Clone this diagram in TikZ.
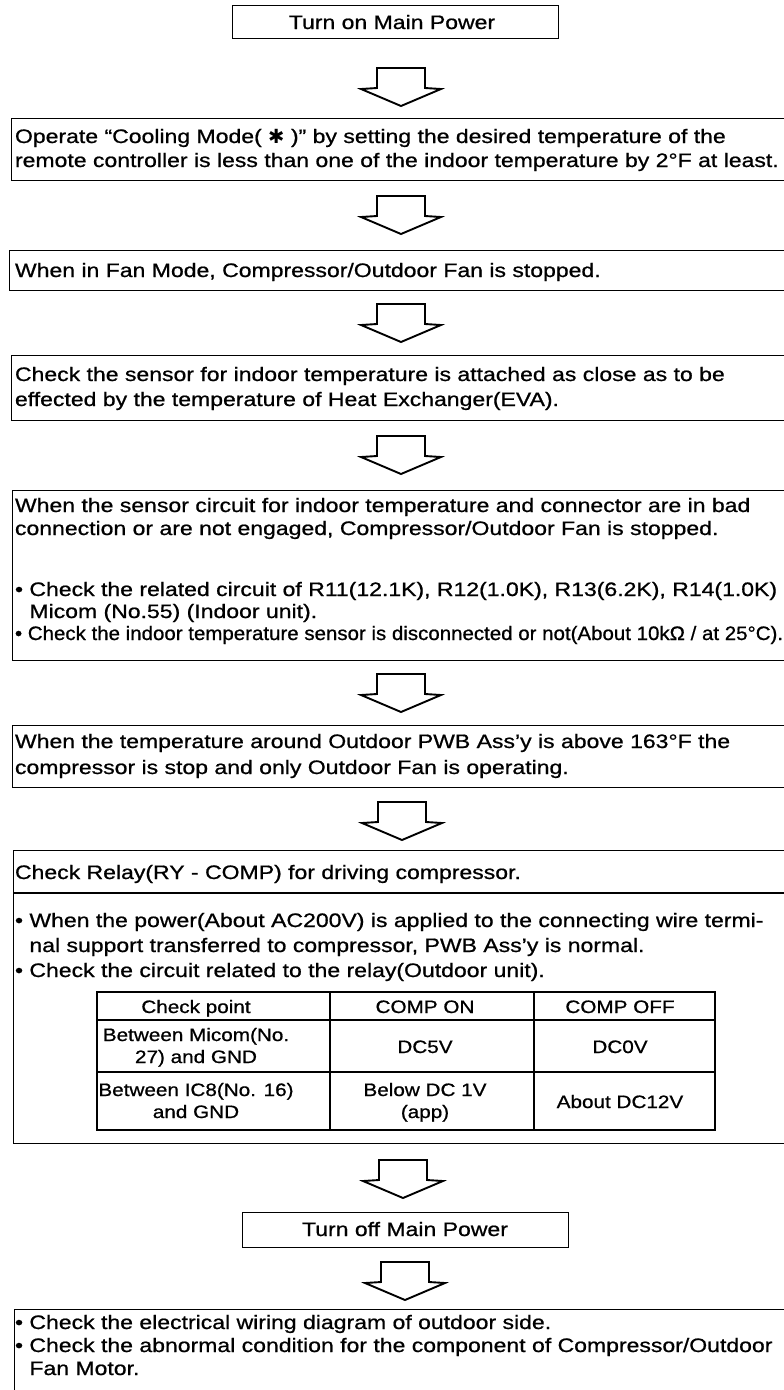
\documentclass[tikz,border=0pt]{standalone}
\usepackage{fontspec}
\setmainfont{Liberation Sans}[FakeStretch=1.18, FakeBold=0.8]
\newfontfamily\fn{Liberation Sans}[FakeStretch=1.15, FakeBold=0.8]
\newfontfamily\fc{Liberation Sans}[FakeStretch=1.05, FakeBold=0.8]
\newfontfamily\symf{DejaVu Sans}
\tikzset{
  box/.style={draw=black, line width=1.3pt, inner sep=0pt, anchor=north west},
  rule/.style={draw=black, line width=1.3pt},
  blk/.style={draw=black, line width=1.9pt, line join=miter, fill=white},
  txt/.style={anchor=base west, inner sep=0pt, outer sep=0pt, font=\fontsize{19.5}{24}\selectfont},
  txtn/.style={txt, font=\fn\fontsize{19.5}{24}\selectfont},
  txtc/.style={txt, font=\fc\fontsize{19.5}{24}\selectfont},
  ctxt/.style={anchor=base, inner sep=0pt, font=\fontsize{19.5}{24}\selectfont},
  tbl/.style={anchor=base, inner sep=0pt, font=\fn\fontsize{18}{22}\selectfont},
}
\newcommand\blockarrow[2]{%
  \coordinate (#1) at #2;
  \draw[blk] (#1) ++(-24,0) -- ++(48,0) -- ++(0,20) -- ++(16,1) -- ++(-40,17) -- ++(-40,-17) -- ++(16,-1) -- cycle;
}
\begin{document}
\begin{tikzpicture}[x=1pt, y=-1pt]
\useasboundingbox (0,0) rectangle (784,1390);
\fill[white] (0,0) rectangle (784,1390);
\clip (0,0) rectangle (784,1390);

% boxes
\node[box, minimum width=326pt, minimum height=33pt] (b1) at (232,5) {};
\node[box, minimum width=790pt, minimum height=62pt] (b2) at (11,118) {};
\node[box, minimum width=792pt, minimum height=40pt] (b3) at (9,250) {};
\node[box, minimum width=790pt, minimum height=65pt] (b4) at (11,355) {};
\node[box, minimum width=790pt, minimum height=170pt] (b5) at (12,490) {};
\node[box, minimum width=790pt, minimum height=62pt] (b6) at (12,725) {};
\node[box, minimum width=790pt, minimum height=293pt] (b7) at (13,850) {};
\draw[rule] (13,893) -- (803,893);
\node[box, minimum width=326pt, minimum height=35pt] (b8) at (242,1212) {};
\node[box, minimum width=790pt, minimum height=120pt] (b9) at (14,1309) {};

% table
\draw[rule, line width=1.2pt] (97,992) rectangle (715,1130);
\draw[rule, line width=1.2pt] (97,1020) -- (715,1020) (97,1072) -- (715,1072)
  (330,992) -- (330,1130) (534,992) -- (534,1130);

% block arrows
\blockarrow{a1}{(401,68)}
\blockarrow{a2}{(401,196)}
\blockarrow{a3}{(401,304)}
\blockarrow{a4}{(401,436)}
\blockarrow{a5}{(401,674)}
\blockarrow{a6}{(402,802)}
\blockarrow{a7}{(403,1160)}
\blockarrow{a8}{(405,1262)}

% texts
\node[ctxt] (t1) at (392,29) {Turn on Main Power};
\node[txt] (t2a) at (15,143) {Operate “Cooling Mode( {\symf ✱} )” by setting the desired temperature of the};
\node[txt] (t2b) at (15,167) {remote controller is less than one of the indoor temperature by 2°F at least.};
\node[txt] (t3) at (15,277) {When in Fan Mode, Compressor/Outdoor Fan is stopped.};
\node[txt] (t4a) at (15,381) {Check the sensor for indoor temperature is attached as close as to be};
\node[txt] (t4b) at (15,406) {effected by the temperature of Heat Exchanger(EVA).};
\node[txt] (t5a) at (15,512) {When the sensor circuit for indoor temperature and connector are in bad};
\node[txt] (t5b) at (15,535) {connection or are not engaged, Compressor/Outdoor Fan is stopped.};
\node[txt] (t5c) at (15,596) {• Check the related circuit of R11(12.1K), R12(1.0K), R13(6.2K), R14(1.0K)};
\node[txt] (t5d) at (15,618) {\hphantom{•\ }Micom (No.55) (Indoor unit).};
\node[txtc] (t5e) at (15,640) {• Check the indoor temperature sensor is disconnected or not(About 10kΩ / at 25°C).};
\node[txt] (t6a) at (15,748) {When the temperature around Outdoor PWB Ass'y is above 163°F the};
\node[txt] (t6b) at (15,774) {compressor is stop and only Outdoor Fan is operating.};
\node[txt] (t7a) at (15,879) {Check Relay(RY - COMP) for driving compressor.};
\node[txt] (t7b) at (15,927) {• When the power(About AC200V) is applied to the connecting wire termi-};
\node[txt] (t7c) at (15,952) {\hphantom{•\ }nal support transferred to compressor, PWB Ass'y is normal.};
\node[txt] (t7d) at (15,977) {• Check the circuit related to the relay(Outdoor unit).};

\node[tbl] (h1) at (196,1013) {Check point};
\node[tbl] (h2) at (425,1013) {COMP ON};
\node[tbl] (h3) at (620,1013) {COMP OFF};
\node[tbl] (r1a) at (196,1041) {Between Micom(No.};
\node[tbl] (r1b) at (196,1063) {27) and GND};
\node[tbl] (r1c) at (425,1053) {DC5V};
\node[tbl] (r1d) at (620,1053) {DC0V};
\node[tbl] (r2a) at (196,1096) {Between IC8(No. 16)};
\node[tbl] (r2b) at (196,1118) {and GND};
\node[tbl] (r2c) at (425,1096) {Below DC 1V};
\node[tbl] (r2d) at (425,1118) {(app)};
\node[tbl] (r2e) at (620,1108) {About DC12V};

\node[ctxt] (t8) at (405,1236) {Turn off Main Power};
\node[txt] (t9a) at (15,1329) {• Check the electrical wiring diagram of outdoor side.};
\node[txt] (t9b) at (15,1352) {• Check the abnormal condition for the component of Compressor/Outdoor};
\node[txt] (t9c) at (15,1375) {\hphantom{•\ }Fan Motor.};
\end{tikzpicture}
\end{document}
